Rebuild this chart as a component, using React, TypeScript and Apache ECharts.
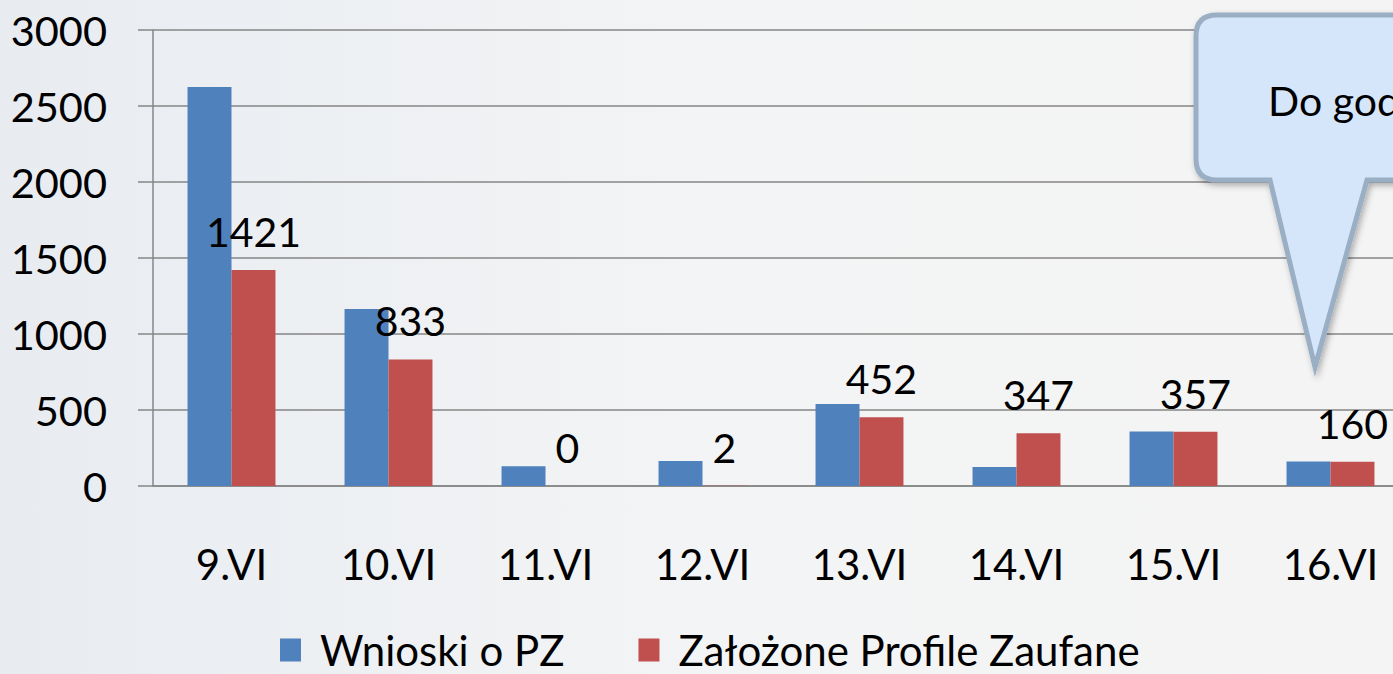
import React, { useEffect, useRef } from "react";
import * as echarts from "echarts";

const categories = ["9.VI", "10.VI", "11.VI", "12.VI", "13.VI", "14.VI", "15.VI", "16.VI"];
const wnioski = [2625, 1165, 130, 165, 540, 125, 358, 162];
const zalozone = [1421, 833, 0, 2, 452, 347, 357, 160];
const yTicks = [0, 500, 1000, 1500, 2000, 2500, 3000];
const seriesNames = ["Wnioski o PZ", "Założone Profile Zaufane"];
const calloutText = "Do godz.";

const FONT = "Lato";

export default function App() {
  const ref = useRef<HTMLDivElement>(null);
  useEffect(() => {
    if (!ref.current) return;
    const d =
      "M1217,15 H1440 V180 H1367 L1315,367 L1270,180 H1217 Q1196,180 1196,159 V36 Q1196,15 1217,15 Z";
    echarts.graphic.registerShape("callout", echarts.graphic.extendPath(d, {}) as any);
    const chart = echarts.init(ref.current, undefined, { renderer: "svg" });
    chart.setOption({
      animation: false,
      backgroundColor: {
        type: "linear",
        x: 0,
        y: 0,
        x2: 1,
        y2: 0,
        colorStops: [
          { offset: 0, color: "#e8ecf1" },
          { offset: 0.5, color: "#f3f4f5" },
          { offset: 1, color: "#f4f4f4" },
        ],
      },
      grid: { left: 153, top: 30, height: 456, width: 1256 },
      legend: {
        top: 629,
        left: 280,
        padding: 0,
        itemWidth: 21,
        itemHeight: 23,
        itemGap: 74,
        icon: "rect",
        textStyle: {
          fontFamily: FONT,
          fontSize: 42,
          color: "#000",
          padding: [0, 0, 0, 14],
        },
        data: seriesNames,
      },
      xAxis: {
        type: "category",
        data: categories,
        axisLine: { lineStyle: { color: "#868686", width: 1.5 } },
        axisTick: { length: 9, lineStyle: { color: "#868686", width: 1.5 } },
        axisLabel: { fontFamily: FONT, fontSize: 42, color: "#000", margin: 57 },
      },
      yAxis: {
        type: "value",
        min: 0,
        max: 3000,
        interval: 500,
        axisLine: { show: true, lineStyle: { color: "#868686", width: 1.5 } },
        axisTick: { show: true, length: 15, lineStyle: { color: "#868686", width: 1.5 } },
        splitLine: { lineStyle: { color: "#868686", width: 1.5 } },
        axisLabel: {
          fontFamily: FONT,
          fontSize: 41.5,
          color: "#000",
          margin: 46,
          formatter: (v: number) => (yTicks.includes(v) ? String(v) : ""),
        },
      },
      series: [
        {
          name: seriesNames[0],
          type: "bar",
          data: wnioski,
          barGap: "0%",
          barCategoryGap: "44%",
          itemStyle: { color: "#4f81bd" },
        },
        {
          name: seriesNames[1],
          type: "bar",
          data: zalozone,
          itemStyle: { color: "#c0504d" },
          label: {
            show: true,
            position: "top",
            distance: 18,
            fontFamily: FONT,
            fontSize: 41,
            color: "#000",
          },
        },
      ],
      graphic: [
        {
          type: "callout",
          x: 0,
          y: 0,
          z: 100,
          style: {
            fill: "#d5e6fb",
            stroke: "#9aaec4",
            lineWidth: 5,
            shadowBlur: 6,
            shadowColor: "rgba(0,0,0,0.3)",
            shadowOffsetX: 2,
            shadowOffsetY: 3,
          },
        },
        {
          type: "text",
          x: 1268,
          y: 100,
          z: 101,
          style: {
            text: calloutText,
            fontFamily: FONT,
            fontSize: 41,
            fill: "#000",
            verticalAlign: "middle",
            align: "left",
          },
        },
      ],
    });
    return () => chart.dispose();
  }, []);
  return (
    <div
      style={{
        position: "fixed",
        left: 0,
        top: 0,
        width: 1393,
        height: 674,
        overflow: "hidden",
      }}
    >
      <div ref={ref} style={{ width: 1420, height: 674 }} />
    </div>
  );
}
